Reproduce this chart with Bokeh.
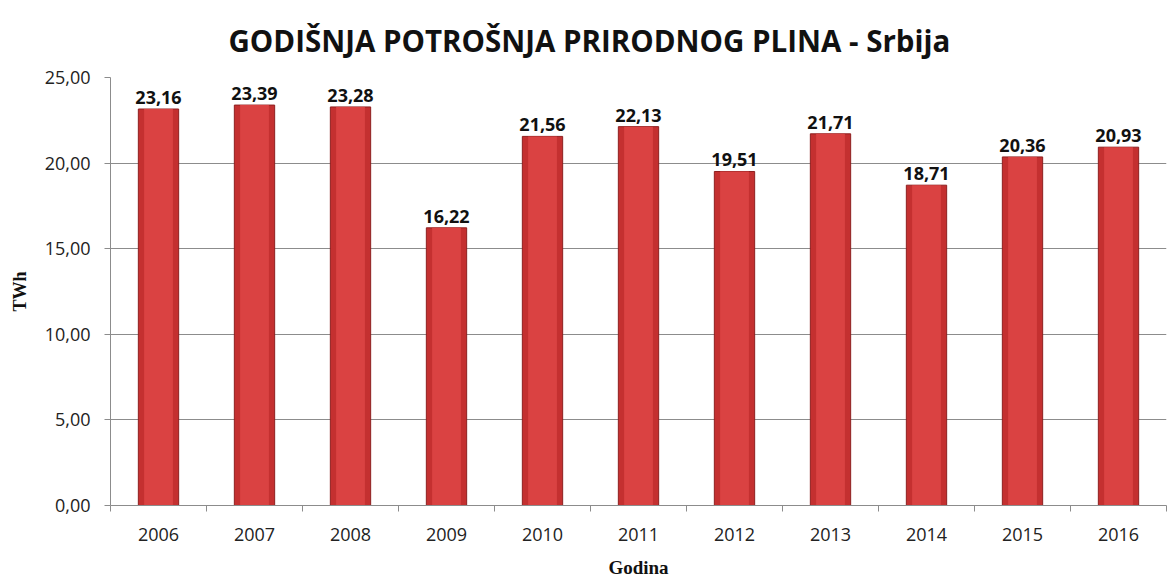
from bokeh.plotting import figure
from bokeh.models import ColumnDataSource, FixedTicker, CustomJSTickFormatter, LabelSet, Range1d
from bokeh.core.properties import value
from bokeh.embed import file_html
from bokeh.resources import INLINE

title = "GODIŠNJA POTROŠNJA PRIRODNOG PLINA - Srbija"
years = ["2006", "2007", "2008", "2009", "2010", "2011", "2012", "2013", "2014", "2015", "2016"]
values = [23.16, 23.39, 23.28, 16.22, 21.56, 22.13, 19.51, 21.71, 18.71, 20.36, 20.93]
y_ticks = [0, 5, 10, 15, 20, 25]

xs = list(range(len(years)))
labels = [f"{v:.2f}".replace(".", ",") for v in values]
src = ColumnDataSource(dict(x=xs, top=values, label=labels))

p = figure(width=1168, height=580, output_backend="svg", toolbar_location=None,
           x_range=Range1d(-0.5, len(years) - 0.5), y_range=Range1d(0, 25),
           min_border_left=110, min_border_right=2, min_border_top=77, min_border_bottom=60)
p.outline_line_color = None
p.background_fill_color = "white"
p.border_fill_color = "white"

p.title.text = title
p.title.align = "left"
p.title.offset = 118
p.title.text_font = "Open Sans"
p.title.text_font_size = "29.5px"
p.title.text_font_style = "bold"
p.title.text_color = "#111111"
p.title.standoff = 33

# bars
p.vbar(x="x", top="top", width=0.42, bottom=0, source=src,
       fill_color="#c43030", line_color="#8e1f1f", line_width=1)
p.vbar(x="x", top="top", width=0.30, bottom=0, source=src,
       fill_color="#da4242", line_color=None)

# data labels
ls = LabelSet(x="x", y="top", text="label", source=src, text_align="center",
              text_baseline="bottom", y_offset=5, text_font=value("Open Sans"),
              text_font_size=value("18px"), text_font_style="bold", text_color="#111111")
p.add_layout(ls)

# grid
p.xgrid.grid_line_color = None
p.ygrid.grid_line_color = "#8c8c8c"
p.ygrid.grid_line_width = 1

# y axis
p.yaxis.ticker = FixedTicker(ticks=y_ticks)
p.yaxis.formatter = CustomJSTickFormatter(code="return tick.toFixed(2).replace('.', ',');")
p.yaxis.axis_line_color = "#8c8c8c"
p.yaxis.major_tick_line_color = "#8c8c8c"
p.yaxis.major_tick_out = 6
p.yaxis.major_tick_in = 0
p.yaxis.minor_tick_line_color = None
p.yaxis.major_label_standoff = 14
p.yaxis.major_label_text_font = "Open Sans"
p.yaxis.major_label_text_font_size = "18px"
p.yaxis.major_label_text_color = "#222222"
p.yaxis.axis_label = "TWh"
p.yaxis.axis_label_text_font = "Liberation Serif"
p.yaxis.axis_label_text_font_style = "bold"
p.yaxis.axis_label_text_font_size = "18px"
p.yaxis.axis_label_text_color = "#111111"
p.yaxis.axis_label_standoff = 12

# x axis
p.xaxis.ticker = FixedTicker(ticks=xs, minor_ticks=[i - 0.5 for i in range(len(years) + 1)])
p.xaxis.major_label_overrides = {i: y for i, y in zip(xs, years)}
p.xaxis.axis_line_color = "#8c8c8c"
p.xaxis.major_tick_line_color = None
p.xaxis.major_tick_out = 0
p.xaxis.major_tick_in = 0
p.xaxis.minor_tick_line_color = "#8c8c8c"
p.xaxis.minor_tick_out = 6
p.xaxis.minor_tick_in = 0
p.xaxis.major_label_standoff = 16
p.xaxis.major_label_text_font = "Open Sans"
p.xaxis.major_label_text_font_size = "18px"
p.xaxis.major_label_text_color = "#222222"
p.xaxis.axis_label = "Godina"
p.xaxis.axis_label_text_font = "Liberation Serif"
p.xaxis.axis_label_text_font_style = "bold"
p.xaxis.axis_label_text_font_size = "19px"
p.xaxis.axis_label_text_color = "#111111"
p.xaxis.axis_label_standoff = 13

open("out.html", "w").write(file_html(p, INLINE))
